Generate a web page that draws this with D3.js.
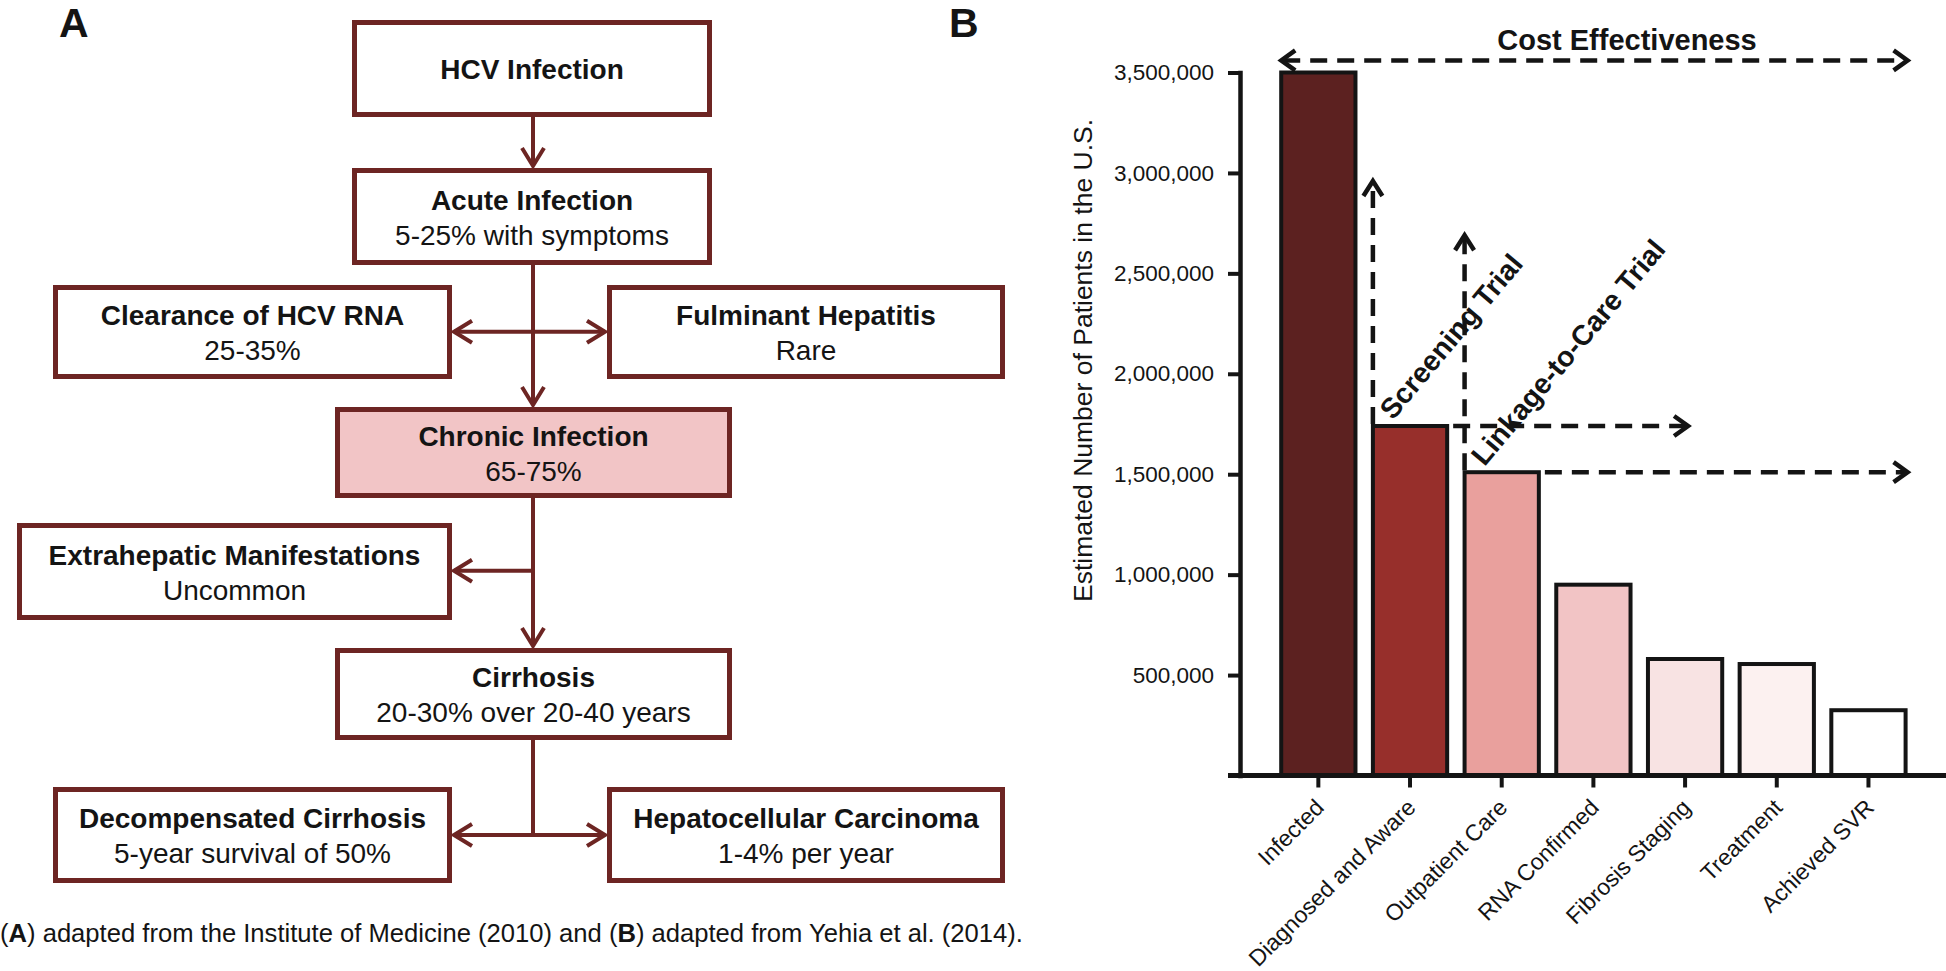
<!DOCTYPE html>
<html><head><meta charset="utf-8">
<script src="https://cdn.jsdelivr.net/npm/d3@7"></script>
<style>
html,body{margin:0;padding:0;background:#fff;}
svg{display:block;}
text{font-family:"Liberation Sans",Arial,Helvetica,sans-serif;fill:#141414;}
</style>
</head><body>
<svg id="fig" width="1946" height="971"></svg>
<script>
// ---------------- DATA ----------------
// Panel B: HCV care cascade
const categories = ["Infected","Diagnosed and Aware","Outpatient Care","RNA Confirmed","Fibrosis Staging","Treatment","Achieved SVR"];
const patients   = [3500000, 1740000, 1510000, 950000, 580000, 555000, 325000];
const yTicks     = [500000, 1000000, 1500000, 2000000, 2500000, 3000000, 3500000];
const yTitle     = "Estimated Number of Patients in the U.S.";
const costLabel  = "Cost Effectiveness";
const costArrowValue = 3560000;
const trialLabels   = ["Screening Trial", "Linkage-to-Care Trial"];
const trialFrom     = ["Diagnosed and Aware", "Outpatient Care"];
const trialArrowTop = [2960000, 2690000];
const trialArrowTo  = ["Fibrosis Staging", "Achieved SVR"];

// Panel A: natural history flowchart
const flowTitles = ["HCV Infection","Acute Infection","Clearance of HCV RNA","Fulminant Hepatitis","Chronic Infection","Extrahepatic Manifestations","Cirrhosis","Decompensated Cirrhosis","Hepatocellular Carcinoma"];
const flowNotes  = ["","5-25% with symptoms","25-35%","Rare","65-75%","Uncommon","20-30% over 20-40 years","5-year survival of 50%","1-4% per year"];
const panelLabels = ["A","B"];
const captionParts = [["(",false],["A",true],[") adapted from the Institute of Medicine (2010) and (",false],["B",true],[") adapted from Yehia et al. (2014).",false]];

// ---------------- STYLE ----------------
const barColors = ["#5c2120","#972f2b","#e9a09d","#f2c4c5","#f8e3e3","#fcf1f0","#ffffff"];
const maroon = "#6d2523";
const ink = "#141414";
const chronicFill = "#f2c5c6";

const svg = d3.select("#fig");

function chevron(g, tipX, tipY, dx, dy, len, half, color, width) {
  const px = -dy, py = dx;
  const bx = tipX - dx*len, by = tipY - dy*len;
  g.append("path")
    .attr("d", `M${bx+px*half},${by+py*half}L${tipX},${tipY}L${bx-px*half},${by-py*half}`)
    .attr("fill","none").attr("stroke",color).attr("stroke-width",width)
    .attr("stroke-linejoin","miter").attr("stroke-linecap","butt");
}

// ================= PANEL A =================
const A = svg.append("g");
const boxLayout = [
  {x0:352,x1:712,y0:20,y1:117},
  {x0:352,x1:712,y0:168,y1:265},
  {x0:53,x1:452,y0:285,y1:379},
  {x0:607,x1:1005,y0:285,y1:379},
  {x0:335,x1:732,y0:407,y1:498},
  {x0:17,x1:452,y0:523,y1:620},
  {x0:335,x1:732,y0:648,y1:740},
  {x0:53,x1:452,y0:787,y1:883},
  {x0:607,x1:1005,y0:787,y1:883}
];
const BW = 5;
const spineX = 533;

// connectors
const flowG = A.append("g");
function fline(x1,y1,x2,y2){
  flowG.append("line").attr("x1",x1).attr("y1",y1).attr("x2",x2).attr("y2",y2)
    .attr("stroke",maroon).attr("stroke-width",4);
}
const aL = 18, aH = 11;
fline(spineX, boxLayout[0].y1, spineX, boxLayout[1].y0-2);
chevron(flowG, spineX, boxLayout[1].y0-2, 0, 1, aL, aH, maroon, 4);
fline(spineX, boxLayout[1].y1, spineX, boxLayout[4].y0-2);
chevron(flowG, spineX, boxLayout[4].y0-2, 0, 1, aL, aH, maroon, 4);
const yClr = 331.7;
fline(boxLayout[2].x1+2, yClr, boxLayout[3].x0-2, yClr);
chevron(flowG, boxLayout[2].x1+2, yClr, -1, 0, aL, aH, maroon, 4);
chevron(flowG, boxLayout[3].x0-2, yClr, 1, 0, aL, aH, maroon, 4);
fline(spineX, boxLayout[4].y1, spineX, boxLayout[6].y0-2);
chevron(flowG, spineX, boxLayout[6].y0-2, 0, 1, aL, aH, maroon, 4);
const yExt = 570.7;
fline(spineX, yExt, boxLayout[5].x1+2, yExt);
chevron(flowG, boxLayout[5].x1+2, yExt, -1, 0, aL, aH, maroon, 4);
const yDec = 835;
fline(spineX, boxLayout[6].y1, spineX, yDec);
fline(boxLayout[7].x1+2, yDec, boxLayout[8].x0-2, yDec);
chevron(flowG, boxLayout[7].x1+2, yDec, -1, 0, aL, aH, maroon, 4);
chevron(flowG, boxLayout[8].x0-2, yDec, 1, 0, aL, aH, maroon, 4);

// boxes
const boxes = A.selectAll("g.box").data(flowTitles.map((t,i)=>({t, n:flowNotes[i], b:boxLayout[i], i})))
  .join("g").attr("class","box");
boxes.append("rect")
  .attr("x", d=>d.b.x0+BW/2).attr("y", d=>d.b.y0+BW/2)
  .attr("width", d=>d.b.x1-d.b.x0-BW).attr("height", d=>d.b.y1-d.b.y0-BW)
  .attr("fill", d=>d.i===4 ? chronicFill : "#fff")
  .attr("stroke", maroon).attr("stroke-width", BW);
boxes.append("text")
  .attr("x", d=>(d.b.x0+d.b.x1)/2)
  .attr("y", d=>{const cy=(d.b.y0+d.b.y1)/2; return d.n ? cy-7 : cy+10;})
  .attr("text-anchor","middle").attr("font-size",28).attr("font-weight","bold")
  .text(d=>d.t);
boxes.filter(d=>d.n).append("text")
  .attr("x", d=>(d.b.x0+d.b.x1)/2)
  .attr("y", d=>(d.b.y0+d.b.y1)/2+28)
  .attr("text-anchor","middle").attr("font-size",28)
  .text(d=>d.n);

// panel labels
svg.append("text").attr("x",59).attr("y",37).attr("font-size",41).attr("font-weight","bold").text(panelLabels[0]);
svg.append("text").attr("x",949).attr("y",37).attr("font-size",41).attr("font-weight","bold").text(panelLabels[1]);

// caption
const cap = svg.append("text").attr("x",0).attr("y",942).attr("font-size",25.6);
captionParts.forEach(([s,b])=>{
  cap.append("tspan").attr("font-weight", b ? "bold" : "normal").text(s);
});

// ================= PANEL B =================
const B = svg.append("g");
const x = d3.scaleBand().domain(categories).range([1272.5,1914.3]).paddingInner(0.19).paddingOuter(0.095);
const y = d3.scaleLinear().domain([0,3500000]).range([775.5,72.5]);
const axisX = 1240;

// bars
B.append("g").selectAll("rect").data(categories.map((c,i)=>({c, v:patients[i], i})))
  .join("rect")
  .attr("x", d=>x(d.c)).attr("y", d=>y(d.v))
  .attr("width", x.bandwidth()).attr("height", d=>y(0)-y(d.v))
  .attr("fill", d=>barColors[d.i]).attr("stroke", ink).attr("stroke-width", 4);

// y axis
const yAxisG = B.append("g").attr("transform",`translate(${axisX},0)`)
  .call(d3.axisLeft(y).tickValues(yTicks).tickFormat(d3.format(",")).tickSize(12).tickSizeOuter(0).tickPadding(14));
yAxisG.select(".domain").attr("stroke",ink).attr("stroke-width",4.5).attr("stroke-linecap","square");
yAxisG.selectAll(".tick line").attr("stroke",ink).attr("stroke-width",4);
yAxisG.selectAll(".tick text").attr("font-size",22.5).attr("font-family",'"Liberation Sans",Arial,sans-serif').attr("fill",ink);

// x axis
const xAxisG = B.append("g").attr("transform",`translate(0,${y(0)})`)
  .call(d3.axisBottom(x).tickSize(12).tickSizeOuter(0));
xAxisG.select(".domain").remove();
xAxisG.selectAll(".tick line").attr("stroke",ink).attr("stroke-width",4);
xAxisG.selectAll(".tick text")
  .attr("font-size",23).attr("font-family",'"Liberation Sans",Arial,sans-serif').attr("fill",ink)
  .attr("text-anchor","end").attr("x",0).attr("y",0).attr("dy",0)
  .attr("transform","translate(7,33.5) rotate(-45)");
B.append("line").attr("x1",1228).attr("x2",1946).attr("y1",y(0)).attr("y2",y(0))
  .attr("stroke",ink).attr("stroke-width",5);

// y title
B.append("text").attr("transform","translate(1092,360.5) rotate(-90)")
  .attr("text-anchor","middle").attr("font-size",26.5).text(yTitle);

// annotations
const ann = B.append("g");
const dash = "17,10";
function dline(x1,y1,x2,y2){
  ann.append("line").attr("x1",x1).attr("y1",y1).attr("x2",x2).attr("y2",y2)
    .attr("stroke",ink).attr("stroke-width",4.5).attr("stroke-dasharray",dash);
}
const hL = 14, hH = 10;
const lastC = categories[categories.length-1];
const rightEnd = x(lastC)+x.bandwidth()+2;
// cost effectiveness
const yc = y(costArrowValue);
dline(x(categories[0])+2, yc, rightEnd-2, yc);
chevron(ann, x(categories[0]), yc, -1, 0, hL, hH, ink, 4.5);
chevron(ann, rightEnd, yc, 1, 0, hL, hH, ink, 4.5);
B.append("text").attr("x",1627).attr("y",50).attr("text-anchor","middle")
  .attr("font-size",29).attr("font-weight","bold").text(costLabel);

// trials
trialLabels.forEach((lab,i)=>{
  const c = trialFrom[i];
  const v = patients[categories.indexOf(c)];
  const xl = x(c), yt = y(v);
  dline(xl, yt-2, xl, y(trialArrowTop[i])+2);
  chevron(ann, xl, y(trialArrowTop[i]), 0, -1, 15, 9.5, ink, 4.5);
  const xe = trialArrowTo[i]===lastC ? rightEnd : x(trialArrowTo[i]) + x.bandwidth()/2 + 3;
  dline(xl + x.bandwidth() + 6, yt, xe-2, yt);
  chevron(ann, xe, yt, 1, 0, hL, hH, ink, 4.5);
  ann.append("text").attr("transform",`translate(${xl+20},${yt-5}) rotate(-50)`)
    .attr("font-size",28.5).attr("font-weight","bold").text(lab);
});
</script>
</body></html>
